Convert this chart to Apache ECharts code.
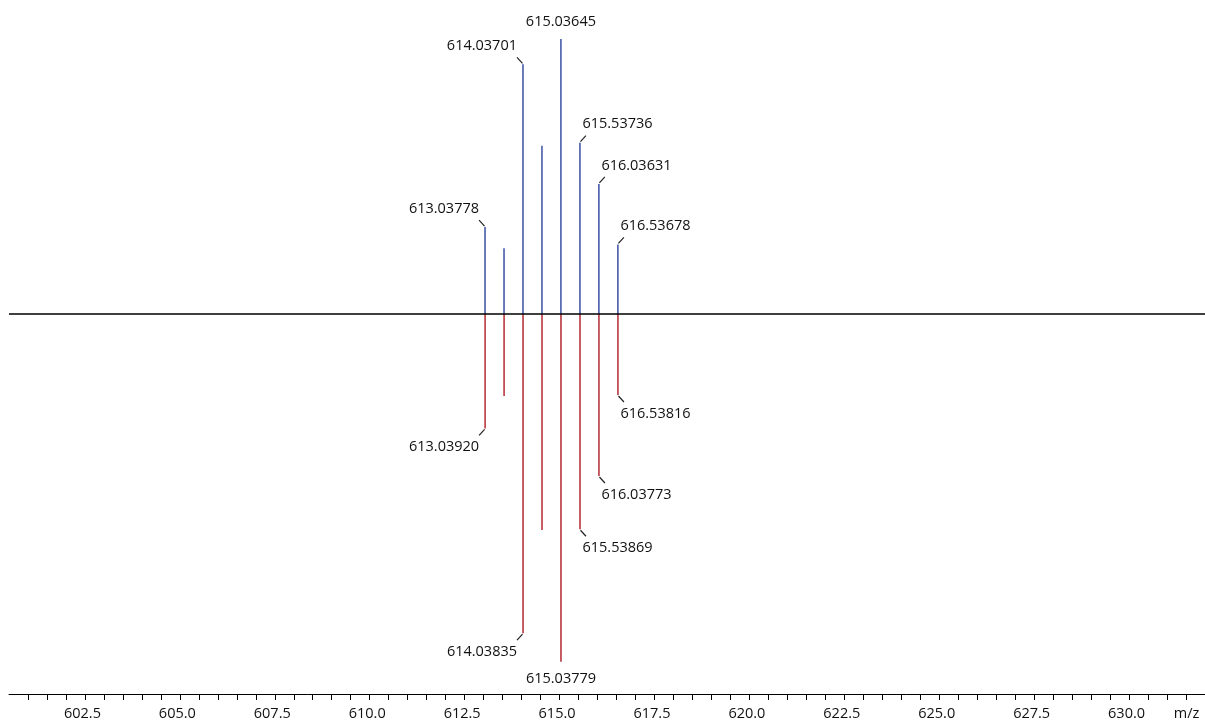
<!DOCTYPE html>
<html>
<head>
<meta charset="utf-8">
<script src="https://cdn.jsdelivr.net/npm/echarts@6/dist/echarts.min.js"></script>
<style>
html,body{margin:0;padding:0;background:#fff;}
#chart{width:1205px;height:722px;}
</style>
</head>
<body>
<div id="chart"></div>
<script>
// Upper (measured) spectrum, relative intensity %
const upperMz = [613.03778, 613.5380, 614.03701, 614.5370, 615.03645, 615.53736, 616.03631, 616.53678];
const upperInt = [31.6, 23.9, 90.8, 61.2, 100, 62.3, 47.3, 25.3];
const upperLabels = ['613.03778', '', '614.03701', '', '615.03645', '615.53736', '616.03631', '616.53678'];

// Lower (theoretical) spectrum, relative intensity %
const lowerMz = [613.03920, 613.5392, 614.03835, 614.5384, 615.03779, 615.53869, 616.03773, 616.53816];
const lowerInt = [32.9, 23.6, 91.8, 62.1, 100, 61.9, 46.6, 23.3];
const lowerLabels = ['613.03920', '', '614.03835', '', '615.03779', '615.53869', '616.03773', '616.53816'];

// x axis
const xMin = 600.5, xMax = 632, xStep = 0.5, xLabelStep = 2.5;
const axisName = 'm/z';

const FONT = '"Open Sans", "Noto Sans", sans-serif';
const TEXT_COLOR = '#111';

function makeRender(mzArr, intArr, labels, color) {
  let apexIdx = 0;
  intArr.forEach((v, i) => { if (v > intArr[apexIdx]) apexIdx = i; });
  const apexMz = mzArr[apexIdx];
  return function (params, api) {
    const idx = params.dataIndex;
    const x = api.value(0), v = api.value(1);
    const base = api.coord([x, 0]);
    const top = api.coord([x, v]);
    const dir = top[1] < base[1] ? -1 : 1;
    const children = [{
      type: 'line',
      shape: { x1: base[0], y1: base[1], x2: top[0], y2: top[1] },
      style: { stroke: color, lineWidth: 1.5 }
    }];
    const lab = labels[idx];
    if (lab) {
      let side = 'center';
      if (x < apexMz - 0.01) side = 'left';
      else if (x > apexMz + 0.01) side = 'right';
      if (side === 'center') {
        children.push({
          type: 'text',
          style: { text: lab, x: top[0], y: top[1] + dir * 17, align: 'center', verticalAlign: 'middle',
                   fill: TEXT_COLOR, font: '14.5px ' + FONT }
        });
      } else {
        const s = side === 'left' ? -1 : 1;
        children.push({
          type: 'line',
          shape: { x1: top[0] + s * 0.5, y1: top[1] + dir * 1, x2: top[0] + s * 6, y2: top[1] + dir * 7 },
          style: { stroke: '#222', lineWidth: 1.2 }
        });
        children.push({
          type: 'text',
          style: { text: lab, x: side === 'left' ? top[0] - 6 : top[0] + 2.5, y: top[1] + dir * 18.5,
                   align: side === 'left' ? 'right' : 'left', verticalAlign: 'middle',
                   fill: TEXT_COLOR, font: '14.5px ' + FONT }
        });
      }
    }
    return { type: 'group', children: children };
  };
}

const upperData = upperMz.map((m, i) => [m, upperInt[i]]);
const lowerData = lowerMz.map((m, i) => [m, lowerInt[i]]);

const chart = echarts.init(document.getElementById('chart'), null, { renderer: 'canvas' });
chart.setOption({
  backgroundColor: '#ffffff',
  animation: false,
  grid: { left: 9, right: 0, top: 14, bottom: 28, containLabel: false },
  xAxis: {
    type: 'value', min: xMin, max: xMax, interval: xStep,
    axisLine: { show: true, onZero: false, lineStyle: { color: '#000', width: 1 } },
    axisTick: { show: true, length: 6, lineStyle: { color: '#000', width: 1 } },
    splitLine: { show: false },
    axisLabel: {
      margin: 12,
      color: TEXT_COLOR,
      fontFamily: FONT,
      fontSize: 14.5,
      showMinLabel: false,
      showMaxLabel: false,
      formatter: function (v) {
        const k = v / xLabelStep;
        if (Math.abs(k - Math.round(k)) < 1e-6) return '{n|' + v.toFixed(1) + '}';
        if (Math.abs(v - (xMax - xStep)) < 1e-6) return '{m|' + axisName + '}';
        return '';
      },
      rich: {
        n: { padding: [0, 5, 0, 0], color: TEXT_COLOR, fontFamily: FONT, fontSize: 14.5 },
        m: { padding: [0, 0, 0, 1], color: TEXT_COLOR, fontFamily: FONT, fontSize: 14.5 }
      }
    }
  },
  yAxis: [
    { type: 'value', show: false, min: -138.18, max: 109.09, splitLine: { show: false } },
    { type: 'value', show: false, inverse: true, min: -86.28, max: 109.29, splitLine: { show: false } }
  ],
  series: [
    {
      type: 'line', name: 'baseline', yAxisIndex: 0,
      data: [[xMin, 0], [xMax, 0]],
      symbol: 'none', silent: true,
      lineStyle: { color: '#000', width: 1.6 }
    },
    {
      type: 'custom', name: 'upper', yAxisIndex: 0,
      renderItem: makeRender(upperMz, upperInt, upperLabels, '#3a4fa3'),
      data: upperData, silent: true, clip: false
    },
    {
      type: 'custom', name: 'lower', yAxisIndex: 1,
      renderItem: makeRender(lowerMz, lowerInt, lowerLabels, '#b22a33'),
      data: lowerData, silent: true, clip: false
    }
  ]
});
</script>
</body>
</html>
